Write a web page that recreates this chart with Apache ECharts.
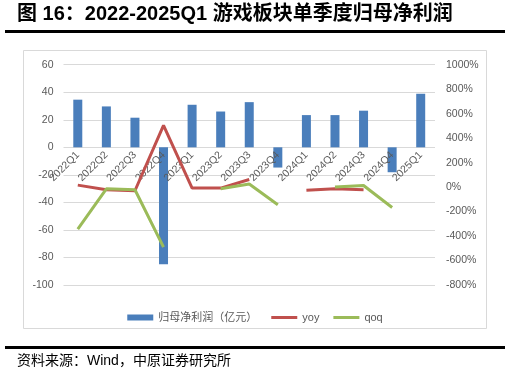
<!DOCTYPE html>
<html><head><meta charset="utf-8">
<script src="https://cdn.jsdelivr.net/npm/echarts@6/dist/echarts.min.js"></script>
<style>html,body{margin:0;padding:0;background:#fff}#c{width:510px;height:379px}</style>
</head><body><div id="c"></div>
<script>
var categories = ['2022Q1','2022Q2','2022Q3','2022Q4','2023Q1','2023Q2','2023Q3','2023Q4','2024Q1','2024Q2','2024Q3','2024Q4','2025Q1'];
var profit = [34.6, 29.7, 21.5, -85, 30.9, 26, 32.8, -14.7, 23.4, 23.4, 26.6, -18.1, 38.9];
var yoy = [16, -22, -30, 504, -8, -8, 62, null, -25, -14, -22, null, null];
var qoq = [-344, -14, -22, -491, null, -14, 25, -145, null, 0, 13, -167, null];
var leftTicks = {min: -100, max: 60, interval: 20};
var rightTicks = {min: -800, max: 1000, interval: 200};
var seriesNames = ['归母净利润（亿元）', 'yoy', 'qoq'];
var titleText = '图 16：2022-2025Q1 游戏板块单季度归母净利润';
var sourceText = '资料来源：Wind，中原证券研究所';

var FONT = "'Liberation Sans','Noto Sans CJK SC',sans-serif";
var GRID_TOP = 64.7, GRID_BOTTOM = 94;
var chart = echarts.init(document.getElementById('c'), null, {renderer: 'canvas'});
var plotH = 379 - GRID_TOP - GRID_BOTTOM;
var zeroOffset = -plotH * (0 - leftTicks.min) / (leftTicks.max - leftTicks.min);
chart.setOption({
  animation: false,
  backgroundColor: '#fff',
  graphic: [
    {type: 'rect', shape: {x: 23.5, y: 50.5, width: 463, height: 278}, style: {fill: 'none', stroke: '#d9d9d9', lineWidth: 1}, z: 0},
    {type: 'rect', shape: {x: 5, y: 30, width: 500, height: 3}, style: {fill: '#000'}},
    {type: 'rect', shape: {x: 5, y: 346, width: 500, height: 3}, style: {fill: '#000'}},
    {type: 'text', left: 17, top: 4, style: {text: titleText, font: 'bold 20px ' + FONT, fill: '#000'}},
    {type: 'text', left: 17, top: 354, style: {text: sourceText, font: '14px ' + FONT, fill: '#000'}}
  ],
  grid: {left: 63.5, right: 75, top: GRID_TOP, bottom: GRID_BOTTOM},
  legend: {
    left: 'center', top: 307, itemGap: 14, itemWidth: 26, itemHeight: 6,
    textStyle: {fontSize: 11, color: '#595959', fontFamily: FONT},
    data: [
      {name: seriesNames[0], icon: 'rect'},
      {name: seriesNames[1], icon: 'path://M0,0L26,0L26,3L0,3Z', itemStyle: {color: '#C0504D'}},
      {name: seriesNames[2], icon: 'path://M0,0L26,0L26,3L0,3Z', itemStyle: {color: '#9BBB59'}}
    ]
  },
  xAxis: {
    type: 'category', data: categories, offset: zeroOffset, zlevel: 1, z: 10,
    axisLine: {onZero: false, show: false},
    axisTick: {show: false},
    axisLabel: {rotate: 45, color: '#595959', fontSize: 10.5, fontFamily: FONT, margin: 6, interval: 0, hideOverlap: false}
  },
  yAxis: [
    {type: 'value', min: leftTicks.min, max: leftTicks.max, interval: leftTicks.interval,
     axisLine: {show: false}, axisTick: {show: false},
     axisLabel: {color: '#595959', fontSize: 10.5, fontFamily: FONT, margin: 10},
     splitLine: {lineStyle: {color: '#d9d9d9'}}},
    {type: 'value', min: rightTicks.min, max: rightTicks.max, interval: rightTicks.interval,
     axisLine: {show: false}, axisTick: {show: false},
     axisLabel: {color: '#595959', fontSize: 10.5, fontFamily: FONT, margin: 11, formatter: function (v) { return v + '%'; }},
     splitLine: {show: false}}
  ],
  series: [
    {name: seriesNames[0], type: 'bar', data: profit, barWidth: 9, itemStyle: {color: '#4A7EBB'}, yAxisIndex: 0, z: 2, zlevel: 0},
    {name: seriesNames[1], type: 'line', data: yoy, yAxisIndex: 1, symbol: 'none', lineStyle: {color: '#C0504D', width: 3}, itemStyle: {color: '#C0504D'}, z: 3, zlevel: 2},
    {name: seriesNames[2], type: 'line', data: qoq, yAxisIndex: 1, symbol: 'none', lineStyle: {color: '#9BBB59', width: 3}, itemStyle: {color: '#9BBB59'}, z: 4, zlevel: 2}
  ]
});
</script></body></html>
